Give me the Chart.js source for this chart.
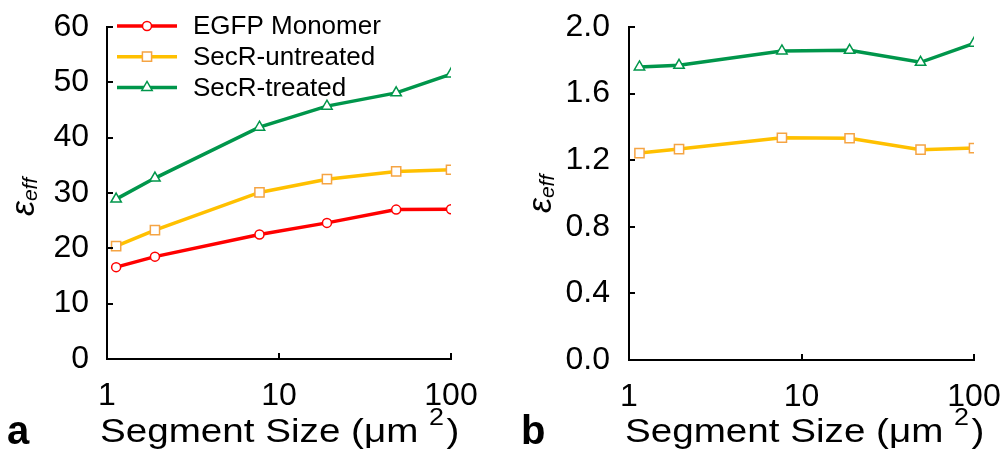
<!DOCTYPE html>
<html>
<head>
<meta charset="utf-8">
<script src="https://cdn.jsdelivr.net/npm/chart.js@4"></script>
<style>
body { margin: 0; background: #fff; width: 1004px; height: 452px; overflow: hidden; position: relative; }
.panel { position: absolute; top: 0; height: 452px; }
#pa { left: 0; width: 500px; }
#pb { left: 500px; width: 504px; }
</style>
</head>
<body>
<div class="panel" id="pa"><canvas id="chartA" width="500" height="452"></canvas></div>
<div class="panel" id="pb"><canvas id="chartB" width="504" height="452"></canvas></div>
<script>
// segment sizes (um^2)
const sizesA = [1.13, 1.9, 7.7, 19, 48, 100]
const sizesB = [1.15, 1.95, 7.7, 19, 49, 100]

// panel a
const egfpA = [16.6, 18.5, 22.5, 24.6, 27.0, 27.05]
const untreatedA = [20.4, 23.3, 30.1, 32.5, 33.9, 34.2]
const treatedA = [28.9, 32.7, 41.9, 45.7, 48.1, 51.5]

// panel b
const untreatedB = [1.243, 1.267, 1.335, 1.332, 1.263, 1.273]
const treatedB = [1.76, 1.77, 1.856, 1.86, 1.788, 1.902]

const xTickLabels = [1, 10, 100]
const seriesNames = ['EGFP Monomer', 'SecR-untreated', 'SecR-treated']

const FONT = '"Liberation Sans", Arial, sans-serif'
const RED = '#ff0000', YEL = '#ffc000', YEL_EDGE = '#f5a443', GRN = '#00964b'

function series(label, xs, ys, color, edge, style, radius) {
  return {
    label: label,
    data: xs.map((x, i) => ({ x: x, y: ys[i] })),
    borderColor: color,
    backgroundColor: color,
    borderWidth: 3.5,
    tension: 0,
    pointStyle: style,
    pointRadius: radius,
    pointHoverRadius: radius,
    pointBorderColor: edge,
    pointBackgroundColor: '#fff',
    pointBorderWidth: 1.5
  }
}

// ticks pointing inward, axis titles, panel letter, legend
function decorPlugin(cfg) {
  return {
    id: 'decor',
    afterDraw(chart) {
      const ctx = chart.ctx
      const area = chart.chartArea
      const xs = chart.scales.x, ys = chart.scales.y
      ctx.save()
      ctx.strokeStyle = '#000'
      ctx.lineWidth = 2
      ys.ticks.forEach(t => {
        const py = Math.round(ys.getPixelForValue(t.value))
        ctx.beginPath(); ctx.moveTo(area.left, py); ctx.lineTo(area.left + 6, py); ctx.stroke()
      })
      xTickLabels.slice(1).forEach(v => {
        const px = Math.round(xs.getPixelForValue(v))
        ctx.beginPath(); ctx.moveTo(px, area.bottom); ctx.lineTo(px, area.bottom - 6); ctx.stroke()
      })

      ctx.fillStyle = '#000'
      // y title: epsilon with "eff" subscript, rotated
      ctx.save()
      ctx.translate(cfg.yTitleX, cfg.yTitleY)
      ctx.rotate(-Math.PI / 2)
      ctx.textBaseline = 'alphabetic'
      ctx.textAlign = 'left'
      ctx.font = 'italic 34px ' + FONT
      ctx.fillText('ε', 0, 0)
      const ew = ctx.measureText('ε').width
      ctx.font = 'italic 21px ' + FONT
      ctx.fillText('eff', ew, 3)
      ctx.restore()

      // x title with superscript
      ctx.save()
      ctx.translate(cfg.xTitleX, 442)
      ctx.scale(1.17, 1)
      ctx.textBaseline = 'alphabetic'
      ctx.textAlign = 'left'
      ctx.font = '33px ' + FONT
      const main = 'Segment Size (μm '
      ctx.fillText(main, 0, 0)
      let w = ctx.measureText(main).width
      ctx.font = '23px ' + FONT
      ctx.fillText('2', w, -17)
      w += ctx.measureText('2').width + 2
      ctx.font = '33px ' + FONT
      ctx.fillText(')', w, 0)
      ctx.restore()

      // panel letter
      ctx.font = 'bold 40px ' + FONT
      ctx.textBaseline = 'alphabetic'
      ctx.fillText(cfg.letter, cfg.letterX, 444)

      if (cfg.legend) {
        ctx.textBaseline = 'middle'
        ctx.font = '26px ' + FONT
        chart.data.datasets.forEach((ds, i) => {
          const ly = 26 + i * 30.7
          ctx.strokeStyle = ds.borderColor
          ctx.lineWidth = 3.5
          ctx.beginPath(); ctx.moveTo(117, ly); ctx.lineTo(177, ly); ctx.stroke()
          ctx.fillStyle = '#fff'
          ctx.strokeStyle = ds.pointBorderColor
          ctx.lineWidth = 1.5
          Chart.helpers.drawPoint(ctx, { pointStyle: ds.pointStyle, radius: ds.pointRadius, borderWidth: 1.5, rotation: 0 }, 147, ly)
          ctx.fillStyle = '#000'
          ctx.fillText(ds.label, 193, ly + 1)
        })
      }
      ctx.restore()
    }
  }
}

function makeOptions(o) {
  return {
    responsive: false,
    animation: false,
    events: [],
    layout: { padding: { top: 27, right: o.padRight, bottom: 0, left: 0 } },
    plugins: { legend: { display: false }, tooltip: { enabled: false } },
    scales: {
      x: {
        type: 'logarithmic',
        min: 1,
        max: 100,
        grid: { display: false, drawTicks: false },
        border: { display: true, color: '#000', width: 2 },
        ticks: {
          autoSkip: false,
          maxRotation: 0,
          padding: 18,
          color: '#000',
          font: { size: 32, family: FONT },
          callback: v => xTickLabels.includes(v) ? String(v) : ''
        },
        // fixed axis size, no extra edge padding from the labels
        afterFit: s => { s.height = o.xHeight; s.paddingLeft = 0; s.paddingRight = 0 }
      },
      y: {
        min: 0,
        max: o.yMax,
        grid: { display: false, drawTicks: false },
        border: { display: true, color: '#000', width: 2 },
        ticks: {
          stepSize: o.yStep,
          padding: o.yPad,
          color: '#000',
          font: { size: 32, family: FONT },
          callback: o.yFmt
        },
        afterFit: s => { s.width = o.yWidth; s.paddingTop = 0; s.paddingBottom = 0 }
      }
    }
  }
}

new Chart(document.getElementById('chartA'), {
  type: 'line',
  data: {
    datasets: [
      series(seriesNames[0], sizesA, egfpA, RED, RED, 'circle', 4.5),
      series(seriesNames[1], sizesA, untreatedA, YEL, YEL_EDGE, 'rect', 6.5),
      series(seriesNames[2], sizesA, treatedA, GRN, GRN, 'triangle', 6)
    ]
  },
  options: makeOptions({ padRight: 49, xHeight: 93, yWidth: 107, yMax: 60, yStep: 10, yPad: 18, yFmt: v => String(v) }),
  plugins: [decorPlugin({ legend: true, letter: 'a', letterX: 7, xTitleX: 100, yTitleX: 34, yTitleY: 216 })]
})

new Chart(document.getElementById('chartB'), {
  type: 'line',
  data: {
    datasets: [
      series(seriesNames[1], sizesB, untreatedB, YEL, YEL_EDGE, 'rect', 6.5),
      series(seriesNames[2], sizesB, treatedB, GRN, GRN, 'triangle', 6)
    ]
  },
  options: makeOptions({ padRight: 30, xHeight: 92, yWidth: 129, yMax: 2, yStep: 0.4, yPad: 19, yFmt: v => v.toFixed(1) }),
  plugins: [decorPlugin({ legend: false, letter: 'b', letterX: 21, xTitleX: 125, yTitleX: 51, yTitleY: 213 })]
})
</script>
</body>
</html>
